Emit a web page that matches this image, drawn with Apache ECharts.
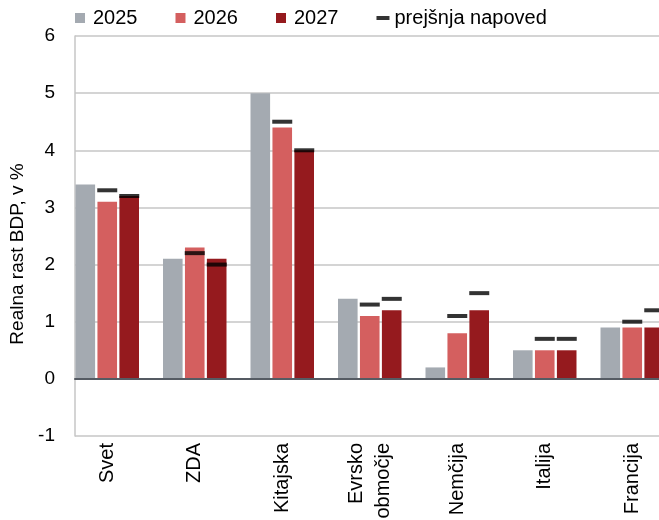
<!DOCTYPE html>
<html>
<head>
<meta charset="utf-8">
<script src="https://cdn.jsdelivr.net/npm/echarts@6/dist/echarts.min.js"></script>
<style>
html,body{margin:0;padding:0;background:#fff;}
#chart{width:659px;height:520px;}
</style>
</head>
<body>
<div id="chart"></div>
<script>
const categories = ['Svet', 'ZDA', 'Kitajska', 'Evrsko\nobmočje', 'Nemčija', 'Italija', 'Francija'];
const s2025 = [3.4, 2.1, 5.0, 1.4, 0.2, 0.5, 0.9];
const s2026 = [3.1, 2.3, 4.4, 1.1, 0.8, 0.5, 0.9];
const s2027 = [3.2, 2.1, 4.0, 1.2, 1.2, 0.5, 0.9];
const prev2026 = [3.3, 2.2, 4.5, 1.3, 1.1, 0.7, 1.0];
const prev2027 = [3.2, 2.0, 4.0, 1.4, 1.5, 0.7, 1.2];
const yTicks = { min: -1, max: 6, interval: 1 };
const yTitle = 'Realna rast BDP, v %';
const legendPrev = 'prejšnja napoved';

const FONT = '"Liberation Sans", Arial, sans-serif';
const C25 = '#a4aab1', C26 = '#d45f5f', C27 = '#951a1e';
const squareIcon = 'path://M0,0 M0,0 L10,0 L10,10 L0,10 Z M13,10';
const dashIcon = 'path://M0,0 M0,3 L13,3 L13,7 L0,7 Z M13,10';

const chart = echarts.init(document.getElementById('chart'), null, { renderer: 'canvas' });
chart.setOption({
  animation: false,
  backgroundColor: '#fff',
  textStyle: { fontFamily: FONT },
  legend: {
    left: 75, top: 8, padding: 0,
    itemWidth: 13, itemHeight: 10, itemGap: 38,
    textStyle: { fontSize: 20, color: '#000', fontFamily: FONT },
    data: [
      { name: '2025', icon: squareIcon },
      { name: '2026', icon: squareIcon },
      { name: '2027', icon: squareIcon },
      { name: legendPrev, icon: dashIcon }
    ]
  },
  grid: [
    { left: 63.5, top: 36, width: 612.5, bottom: 84, outerBoundsMode: 'none', containLabel: false },
    { left: 75, top: 36, right: 0, bottom: 84, outerBoundsMode: 'none', containLabel: false }
  ],
  xAxis: [
    {
      gridIndex: 0, type: 'category', data: categories,
      position: 'bottom',
      axisLine: { show: false, onZero: false }, axisTick: { show: false },
      axisLabel: { rotate: 90, margin: 7, fontSize: 20, color: '#000', lineHeight: 27, fontFamily: FONT, interval: 0 }
    },
    {
      gridIndex: 1, type: 'value', min: 0, max: 1, z: 10,
      axisLine: { show: true, onZero: true, lineStyle: { color: '#555b63', width: 2 } },
      axisTick: { show: false }, axisLabel: { show: false }, splitLine: { show: false }
    }
  ],
  yAxis: [
    {
      gridIndex: 0, type: 'value', min: yTicks.min, max: yTicks.max, interval: yTicks.interval,
      show: false, splitLine: { show: false }
    },
    {
      gridIndex: 1, type: 'value', min: yTicks.min, max: yTicks.max, interval: yTicks.interval,
      axisLine: { show: true, lineStyle: { color: '#c6c6c6', width: 1.5 } },
      axisTick: { show: false },
      axisLabel: { fontSize: 19, color: '#000', margin: 20, fontFamily: FONT },
      splitLine: { show: true, lineStyle: { color: '#c6c6c6', width: 1.5 } },
      name: yTitle, nameLocation: 'middle', nameGap: 48,
      nameTextStyle: { fontSize: 19, color: '#000', fontFamily: FONT, padding: [0, 36, 0, 0] }
    }
  ],
  series: [
    { name: '2025', type: 'bar', xAxisIndex: 0, yAxisIndex: 0, data: s2025, barWidth: 19.6, barGap: '12%', itemStyle: { color: C25 } },
    { name: '2026', type: 'bar', xAxisIndex: 0, yAxisIndex: 0, data: s2026, barWidth: 19.6, barGap: '12%', itemStyle: { color: C26 } },
    { name: '2027', type: 'bar', xAxisIndex: 0, yAxisIndex: 0, data: s2027, barWidth: 19.6, barGap: '12%', itemStyle: { color: C27 } },
    { name: legendPrev, type: 'scatter', xAxisIndex: 0, yAxisIndex: 0, data: prev2026, symbol: 'rect', symbolSize: [20, 4], symbolOffset: [0, 0], itemStyle: { color: '#000' }, z: 5 },
    { name: legendPrev, type: 'scatter', xAxisIndex: 0, yAxisIndex: 0, data: prev2027, symbol: 'rect', symbolSize: [20, 4], symbolOffset: [22, 0], itemStyle: { color: '#000' }, z: 5 }
  ]
});
</script>
</body>
</html>
